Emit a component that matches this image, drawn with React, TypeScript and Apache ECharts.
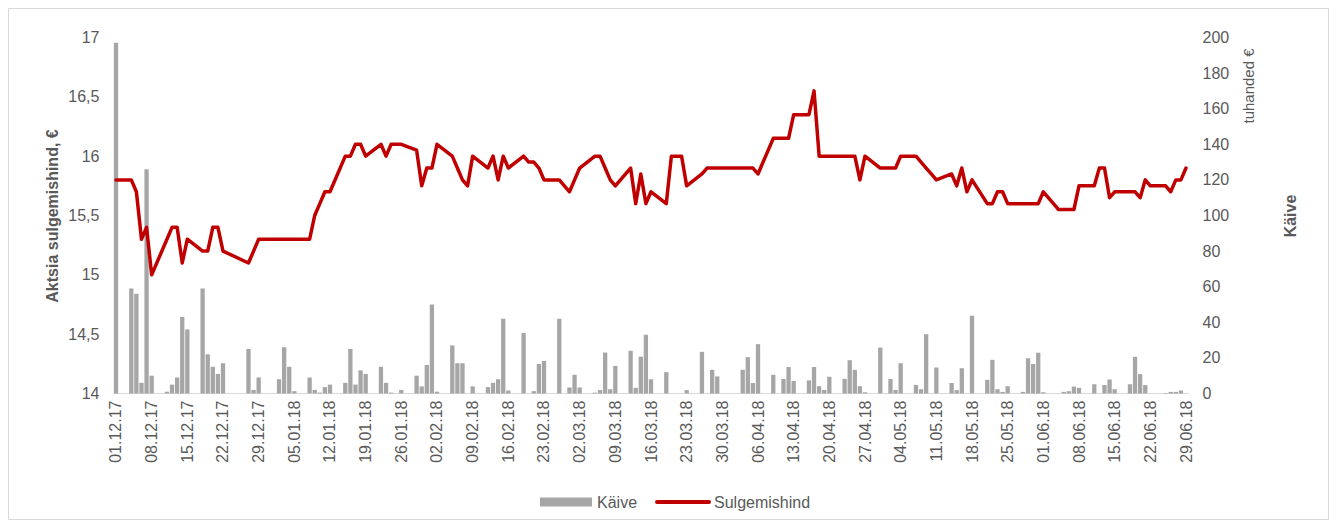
import React, { useEffect, useRef } from "react";
import * as echarts from "echarts";

// Trading days (dd.mm.yy)
const tradeDates: string[] = [
  "01.12.17", "04.12.17", "05.12.17", "06.12.17", "07.12.17", "08.12.17",
  "11.12.17", "12.12.17", "13.12.17", "14.12.17", "15.12.17",
  "18.12.17", "19.12.17", "20.12.17", "21.12.17", "22.12.17",
  "27.12.17", "28.12.17", "29.12.17",
  "02.01.18", "03.01.18", "04.01.18", "05.01.18",
  "08.01.18", "09.01.18", "10.01.18", "11.01.18", "12.01.18",
  "15.01.18", "16.01.18", "17.01.18", "18.01.18", "19.01.18",
  "22.01.18", "23.01.18", "24.01.18", "25.01.18", "26.01.18",
  "29.01.18", "30.01.18", "31.01.18", "01.02.18", "02.02.18",
  "05.02.18", "06.02.18", "07.02.18", "08.02.18", "09.02.18",
  "12.02.18", "13.02.18", "14.02.18", "15.02.18", "16.02.18",
  "19.02.18", "20.02.18", "21.02.18", "22.02.18", "23.02.18",
  "26.02.18", "27.02.18", "28.02.18", "01.03.18", "02.03.18",
  "05.03.18", "06.03.18", "07.03.18", "08.03.18", "09.03.18",
  "12.03.18", "13.03.18", "14.03.18", "15.03.18", "16.03.18",
  "19.03.18", "20.03.18", "21.03.18", "22.03.18", "23.03.18",
  "26.03.18", "27.03.18", "28.03.18", "29.03.18",
  "03.04.18", "04.04.18", "05.04.18", "06.04.18",
  "09.04.18", "10.04.18", "11.04.18", "12.04.18", "13.04.18",
  "16.04.18", "17.04.18", "18.04.18", "19.04.18", "20.04.18",
  "23.04.18", "24.04.18", "25.04.18", "26.04.18", "27.04.18",
  "30.04.18", "02.05.18", "03.05.18", "04.05.18",
  "07.05.18", "08.05.18", "09.05.18", "10.05.18", "11.05.18",
  "14.05.18", "15.05.18", "16.05.18", "17.05.18", "18.05.18",
  "21.05.18", "22.05.18", "23.05.18", "24.05.18", "25.05.18",
  "28.05.18", "29.05.18", "30.05.18", "31.05.18", "01.06.18",
  "04.06.18", "05.06.18", "06.06.18", "07.06.18", "08.06.18",
  "11.06.18", "12.06.18", "13.06.18", "14.06.18", "15.06.18",
  "18.06.18", "19.06.18", "20.06.18", "21.06.18", "22.06.18",
  "25.06.18", "26.06.18", "27.06.18", "28.06.18", "29.06.18",
];

// Sulgemishind (closing price, €)
const closePrice: number[] = [
  15.8, 15.8, 15.7, 15.3, 15.4, 15.0,
  15.3, 15.4, 15.4, 15.1, 15.3,
  15.2, 15.2, 15.4, 15.4, 15.2,
  15.1, 15.2, 15.3,
  15.3, 15.3, 15.3, 15.3,
  15.3, 15.5, 15.6, 15.7, 15.7,
  16.0, 16.0, 16.1, 16.1, 16.0,
  16.1, 16.0, 16.1, 16.1, 16.1,
  16.05, 15.75, 15.9, 15.9, 16.1,
  16.0, 15.9, 15.8, 15.75, 16.0,
  15.9, 16.0, 15.8, 16.0, 15.9,
  16.0, 15.95, 15.95, 15.9, 15.8,
  15.8, 15.75, 15.7, 15.8, 15.9,
  16.0, 16.0, 15.9, 15.8, 15.75,
  15.9, 15.6, 15.85, 15.6, 15.7,
  15.6, 16.0, 16.0, 16.0, 15.75,
  15.85, 15.9, 15.9, 15.9,
  15.9, 15.9, 15.9, 15.85,
  16.15, 16.15, 16.15, 16.15, 16.35,
  16.35, 16.55, 16.0, 16.0, 16.0,
  16.0, 16.0, 16.0, 15.8, 16.0,
  15.9, 15.9, 15.9, 16.0,
  16.0, 15.95, 15.9, 15.85, 15.8,
  15.85, 15.75, 15.9, 15.7, 15.8,
  15.6, 15.6, 15.7, 15.7, 15.6,
  15.6, 15.6, 15.6, 15.6, 15.7,
  15.55, 15.55, 15.55, 15.55, 15.75,
  15.75, 15.9, 15.9, 15.65, 15.7,
  15.7, 15.7, 15.65, 15.8, 15.75,
  15.75, 15.7, 15.8, 15.8, 15.9,
];

// Käive (turnover, thousand €)
const turnover: number[] = [
  197, 59, 56, 6, 126, 10,
  1, 5, 9, 43, 36,
  59, 22, 15, 11, 17,
  25, 2, 9,
  8, 26, 15, 1.3,
  9, 2, 0.5, 3.6, 5,
  6, 25, 5, 13, 11,
  15, 6, 0.5, 0, 2,
  10, 4, 16, 50, 1,
  27, 17, 17, 0, 4,
  3.6, 6, 8, 42, 1.7,
  34, 0, 1.3, 16.6, 18.3,
  42, 0, 3.4, 10.5, 3.4,
  0.5, 1.9, 23, 2.4, 15.5,
  24, 3.2, 20.7, 33, 8,
  12, 0, 0, 0, 1.9,
  23.4, 0, 13.3, 9.6,
  13.3, 20.4, 5.9, 27.7,
  10.5, 0, 8.2, 14.9, 7,
  7.4, 14.9, 4.1, 2, 9.4,
  8.2, 18.7, 13.3, 4.1, 0.7,
  25.8, 8.2, 2, 17,
  4.8, 2.4, 33.3, 0, 14.6,
  5.9, 1.9, 14.2, 0, 43.7,
  7.7, 18.9, 2.4, 0.9, 4.1,
  0.9, 19.8, 16.6, 22.9, 0.7,
  0, 0.9, 1.3, 3.9, 3.2,
  5.2, 0, 4.8, 7.9, 2.4,
  5.2, 20.6, 10.9, 4.7, 0,
  0.3, 0.9, 0.9, 1.7, 0,
];

const leftTicks = [14, 14.5, 15, 15.5, 16, 16.5, 17];
const FONT = "'Liberation Sans', Arial, sans-serif";
const TXT = "#595959";

function pad(n: number) {
  return n < 10 ? "0" + n : String(n);
}

// calendar axis: every day 01.12.17 .. 29.06.18
function buildCalendar(): string[] {
  const out: string[] = [];
  const start = Date.UTC(2017, 11, 1);
  const end = Date.UTC(2018, 5, 29);
  for (let t = start; t <= end; t += 86400000) {
    const d = new Date(t);
    out.push(
      pad(d.getUTCDate()) + "." + pad(d.getUTCMonth() + 1) + "." + String(d.getUTCFullYear()).slice(2)
    );
  }
  return out;
}

export default function App() {
  const ref = useRef<HTMLDivElement>(null);

  useEffect(() => {
    if (!ref.current) return;
    const chart = echarts.init(ref.current, undefined, { renderer: "svg" });

    const categories = buildCalendar();
    const idx: Record<string, number> = {};
    categories.forEach((c, i) => (idx[c] = i));
    const priceFull: (number | null)[] = categories.map(() => null);
    const volFull: (number | null)[] = categories.map(() => null);
    tradeDates.forEach((d, k) => {
      const i = idx[d];
      if (i !== undefined) {
        priceFull[i] = closePrice[k];
        volFull[i] = turnover[k];
      }
    });

    const option: any = {
      animation: false,
      textStyle: { fontFamily: FONT },
      grid: { left: 105.45, right: 140.45, top: 29.5, bottom: 126.5 },
      legend: {
        left: 527,
        top: 481,
        itemWidth: 52,
        itemHeight: 9,
        itemGap: 18,
        textStyle: { fontSize: 16, color: TXT, fontFamily: FONT },
        data: [
          { name: "Käive", icon: "rect" },
          { name: "Sulgemishind", itemStyle: { opacity: 0 }, lineStyle: { width: 4, color: "#C00000" } },
        ],
      },
      xAxis: {
        type: "category",
        data: categories,
        boundaryGap: true,
        axisLine: { lineStyle: { color: "#D9D9D9", width: 1 } },
        axisTick: { interval: 6, length: 5, lineStyle: { color: "#D9D9D9" } },
        axisLabel: { interval: 6, rotate: 90, fontSize: 16, color: TXT, margin: 7, fontFamily: FONT },
      },
      yAxis: [
        {
          type: "value",
          min: leftTicks[0],
          max: leftTicks[leftTicks.length - 1],
          interval: 0.5,
          axisLabel: {
            formatter: (v: number) => String(v).replace(".", ","),
            fontSize: 16,
            color: TXT,
            margin: 14,
            fontFamily: FONT,
          },
          splitLine: { show: false },
          axisLine: { show: false },
          axisTick: { show: false },
        },
        {
          type: "value",
          min: 0,
          max: 200,
          interval: 20,
          position: "right",
          axisLabel: { fontSize: 16, color: TXT, margin: 14, fontFamily: FONT },
          splitLine: { show: false },
          axisLine: { show: false },
          axisTick: { show: false },
        },
      ],
      graphic: [
        {
          type: "rect",
          shape: { x: 0.5, y: 0.5, width: 1320, height: 511 },
          style: { fill: "none", stroke: "#D9D9D9", lineWidth: 1 },
          silent: true,
        },
        {
          type: "text",
          x: 44,
          y: 208,
          rotation: Math.PI / 2,
          style: {
            text: "Aktsia sulgemishind, €",
            font: "bold 16px " + FONT,
            fill: TXT,
            align: "center",
            verticalAlign: "middle",
          },
        },
        {
          type: "text",
          x: 1240,
          y: 78,
          rotation: Math.PI / 2,
          style: {
            text: "tuhanded €",
            font: "15px " + FONT,
            fill: TXT,
            align: "center",
            verticalAlign: "middle",
          },
        },
        {
          type: "text",
          x: 1282,
          y: 208,
          rotation: Math.PI / 2,
          style: {
            text: "Käive",
            font: "bold 16px " + FONT,
            fill: TXT,
            align: "center",
            verticalAlign: "middle",
          },
        },
      ],
      series: [
        {
          name: "Käive",
          type: "bar",
          yAxisIndex: 1,
          data: volFull,
          barWidth: 4.3,
          itemStyle: { color: "#A6A6A6" },
        },
        {
          name: "Sulgemishind",
          type: "line",
          yAxisIndex: 0,
          data: priceFull,
          connectNulls: true,
          symbol: "none",
          lineStyle: { color: "#C00000", width: 3.5, cap: "round", join: "round" },
          itemStyle: { color: "#C00000" },
        },
      ],
    };

    chart.setOption(option);
    return () => chart.dispose();
  }, []);

  return <div ref={ref} style={{ width: 1321, height: 512 }} />;
}
